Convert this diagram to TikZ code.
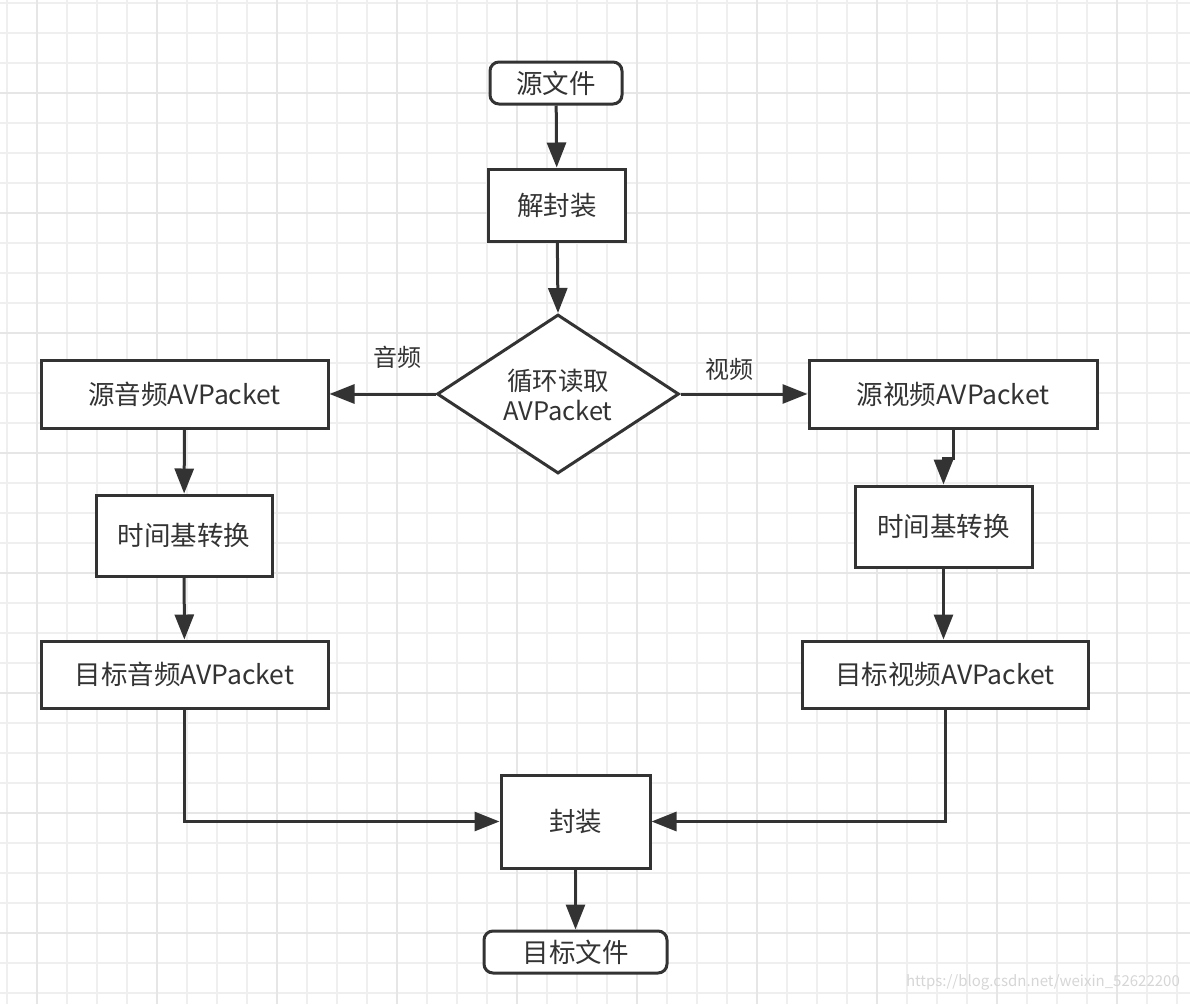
\documentclass[tikz,border=0pt]{standalone}
\usepackage{fontspec}
\setmainfont{Noto Sans CJK SC}
\usetikzlibrary{arrows.meta,shapes.geometric}
\definecolor{linec}{HTML}{333333}
\definecolor{gridc}{HTML}{EFEFEF}
\definecolor{gridm}{HTML}{E6E6E6}
\tikzset{
  box/.style={draw=linec, line width=3pt, fill=white, inner sep=0pt, text=linec, font=\fontsize{26.5}{30}\selectfont, align=center},
  rbox/.style={box, rounded corners=9pt},
  dia/.style={draw=linec, line width=3pt, fill=white, shape=diamond, inner sep=0pt},
  conn/.style={draw=linec, line width=3pt, -{Triangle[length=25pt,width=19pt]}},
  lbl/.style={text=linec, font=\fontsize{24}{28}\selectfont, inner sep=0pt},
}
\begin{document}
\begin{tikzpicture}[x=1pt,y=-1pt]
\useasboundingbox (0,0) rectangle (1190,1004);
\fill[white] (0,0) rectangle (1190,1004);
\foreach \x in {7,37,...,1190} \draw[gridc, line width=1.5pt] (\x,0) -- (\x,1004);
\foreach \y in {3,33,...,1004} \draw[gridc, line width=1.5pt] (0,\y) -- (1190,\y);
\foreach \x in {37,157,...,1190} \draw[gridm, line width=1.5pt] (\x,0) -- (\x,1004);
\foreach \y in {93,213,...,1004} \draw[gridm, line width=1.5pt] (0,\y) -- (1190,\y);

\node[rbox, minimum width=132pt, minimum height=42pt] (src) at (556,83) {源文件};
\node[box, minimum width=137pt, minimum height=72pt] (demux) at (557,205) {解封装};
\node[dia, minimum width=242pt, minimum height=159pt] (loop) at (558,394) {};
\node[lbl, font=\fontsize{25.5}{30}\selectfont, align=center] (looptxt) at (558,395) {循环读取\\AVPacket};
\node[box, minimum width=287pt, minimum height=68pt] (saud) at (184.5,394) {源音频AVPacket};
\node[box, minimum width=288pt, minimum height=68pt] (svid) at (953,394) {源视频AVPacket};
\node[box, minimum width=176pt, minimum height=81pt] (ltime) at (184,535.5) {时间基转换};
\node[box, minimum width=177pt, minimum height=81pt] (rtime) at (943.5,526.5) {时间基转换};
\node[box, minimum width=287pt, minimum height=67pt] (taud) at (184.5,674.5) {目标音频AVPacket};
\node[box, minimum width=286pt, minimum height=67pt] (tvid) at (945,674.5) {目标视频AVPacket};
\node[box, minimum width=149pt, minimum height=93pt] (mux) at (575.5,821.5) {封装};
\node[rbox, minimum width=183pt, minimum height=42pt] (dst) at (575.5,952) {目标文件};

\node[lbl] (la) at (397,357) {音频};
\node[lbl] (lv) at (729,369) {视频};

\draw[conn] (src) -- (demux);
\draw[conn] (demux) -- (loop.north);
\draw[conn] (loop.west) -- (saud);
\draw[conn] (loop.east) -- (svid);
\draw[conn] (saud) -- (ltime);
\draw[conn] (svid.south) -- ++(0,29) -| (rtime.north);
\draw[conn] (ltime) -- (taud);
\draw[conn] (rtime.south) -- (rtime.south |- tvid.north);
\draw[conn] (taud.south) |- (mux.west);
\draw[conn] (tvid.south) |- (mux.east);
\draw[conn] (mux) -- (dst);

\node[text=black!16, font=\fontsize{15}{17}\selectfont, anchor=east, inner sep=0pt] (wm) at (1180,982) {https://blog.csdn.net/weixin\_52622200};
\end{tikzpicture}
\end{document}
